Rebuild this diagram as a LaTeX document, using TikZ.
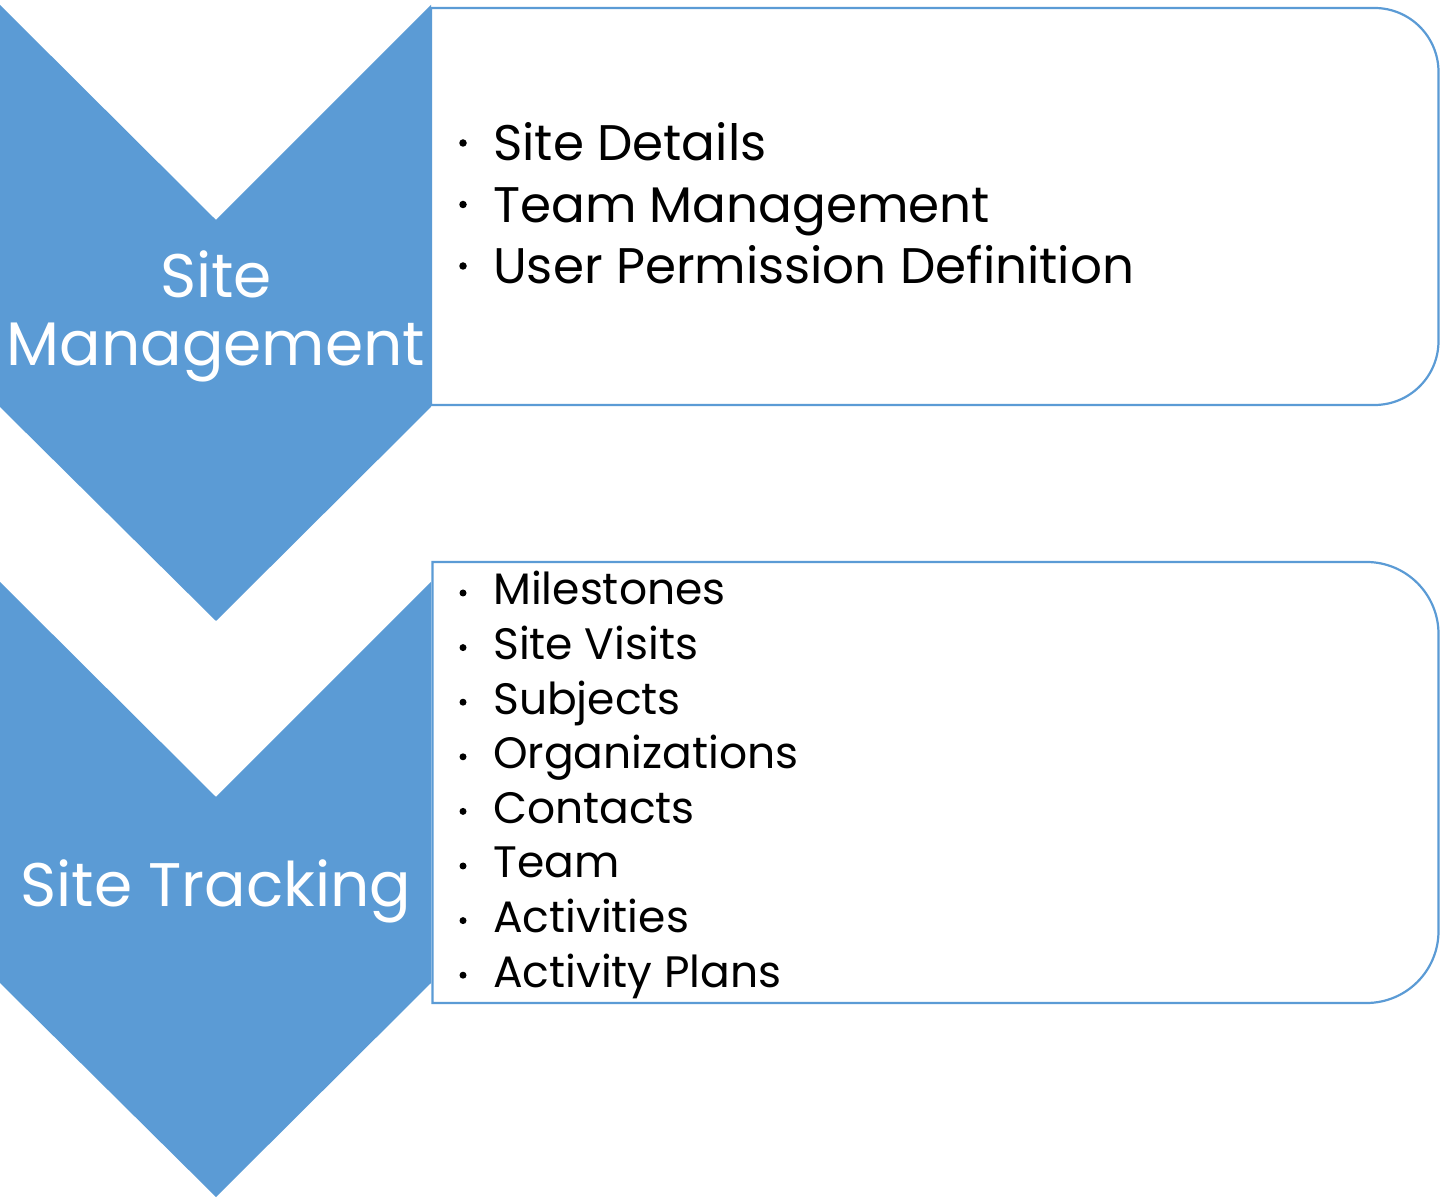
\documentclass[tikz,border=0pt]{standalone}
\usepackage{fontspec}
\setmainfont{Poppins}
\definecolor{chevblue}{HTML}{5B9BD5}
\tikzset{
  chevron/.style={fill=chevblue, draw=none},
  listbox/.style={draw=chevblue, fill=white, line width=2.2pt},
  chevtext/.style={text=white, inner sep=0pt, font=\fontsize{61.5}{68}\selectfont},
  itemA/.style={anchor=base west, inner sep=0pt, font=\fontsize{50}{62}\selectfont},
  itemB/.style={anchor=base west, inner sep=0pt, font=\fontsize{44}{55}\selectfont},
  bulA/.style={circle, fill=black, inner sep=0pt, minimum size=7.5pt},
  bulB/.style={circle, fill=black, inner sep=0pt, minimum size=7pt}
}
\begin{document}
\begin{tikzpicture}[x=1pt,y=1pt]
\useasboundingbox (0,0) rectangle (1440,1197);
% chevrons
\fill[chevron] (0,1192) -- (216,977) -- (431,1192) -- (431,790) -- (216,576) -- (0,790) -- cycle;
\fill[chevron] (0,615) -- (216,400) -- (431,615) -- (431,214) -- (216,0) -- (0,214) -- cycle;
% boxes
\draw[listbox] (431,1189) -- (1374.5,1189) arc[start angle=90,end angle=0,radius=64pt]
  -- (1438.5,856) arc[start angle=0,end angle=-90,radius=64pt] -- (431,792) -- cycle;
\draw[listbox] (432.5,635) -- (1366.5,635) arc[start angle=90,end angle=0,radius=72pt]
  -- (1438.5,266) arc[start angle=0,end angle=-90,radius=72pt] -- (432.5,194) -- cycle;
% chevron labels
\node[chevtext, anchor=base] (sm1) at (216,899) {Site};
\node[chevtext, anchor=base] (sm2) at (216,831) {Management};
\node[chevtext, anchor=base] (st) at (216,290) {Site Tracking};
% box 1 items
\node[bulA] (ba1) at (463,1054) {};
\node[bulA] (ba2) at (463,992.5) {};
\node[bulA] (ba3) at (463,931) {};
\node[itemA] (ia1) at (493,1036) {Site Details};
\node[itemA] (ia2) at (493,974.5) {Team Management};
\node[itemA] (ia3) at (493,913) {User Permission Definition};
% box 2 items
\foreach \i/\t [count=\k from 0] in {1/Milestones,2/Site Visits,3/Subjects,4/Organizations,5/Contacts,6/Team,7/Activities,8/Activity Plans}{
  \node[bulB] (bb\i) at (463,{604-54.6*\k}) {};
  \node[itemB] (ib\i) at (493,{592-54.6*\k}) {\t};
}
\end{tikzpicture}
\end{document}
